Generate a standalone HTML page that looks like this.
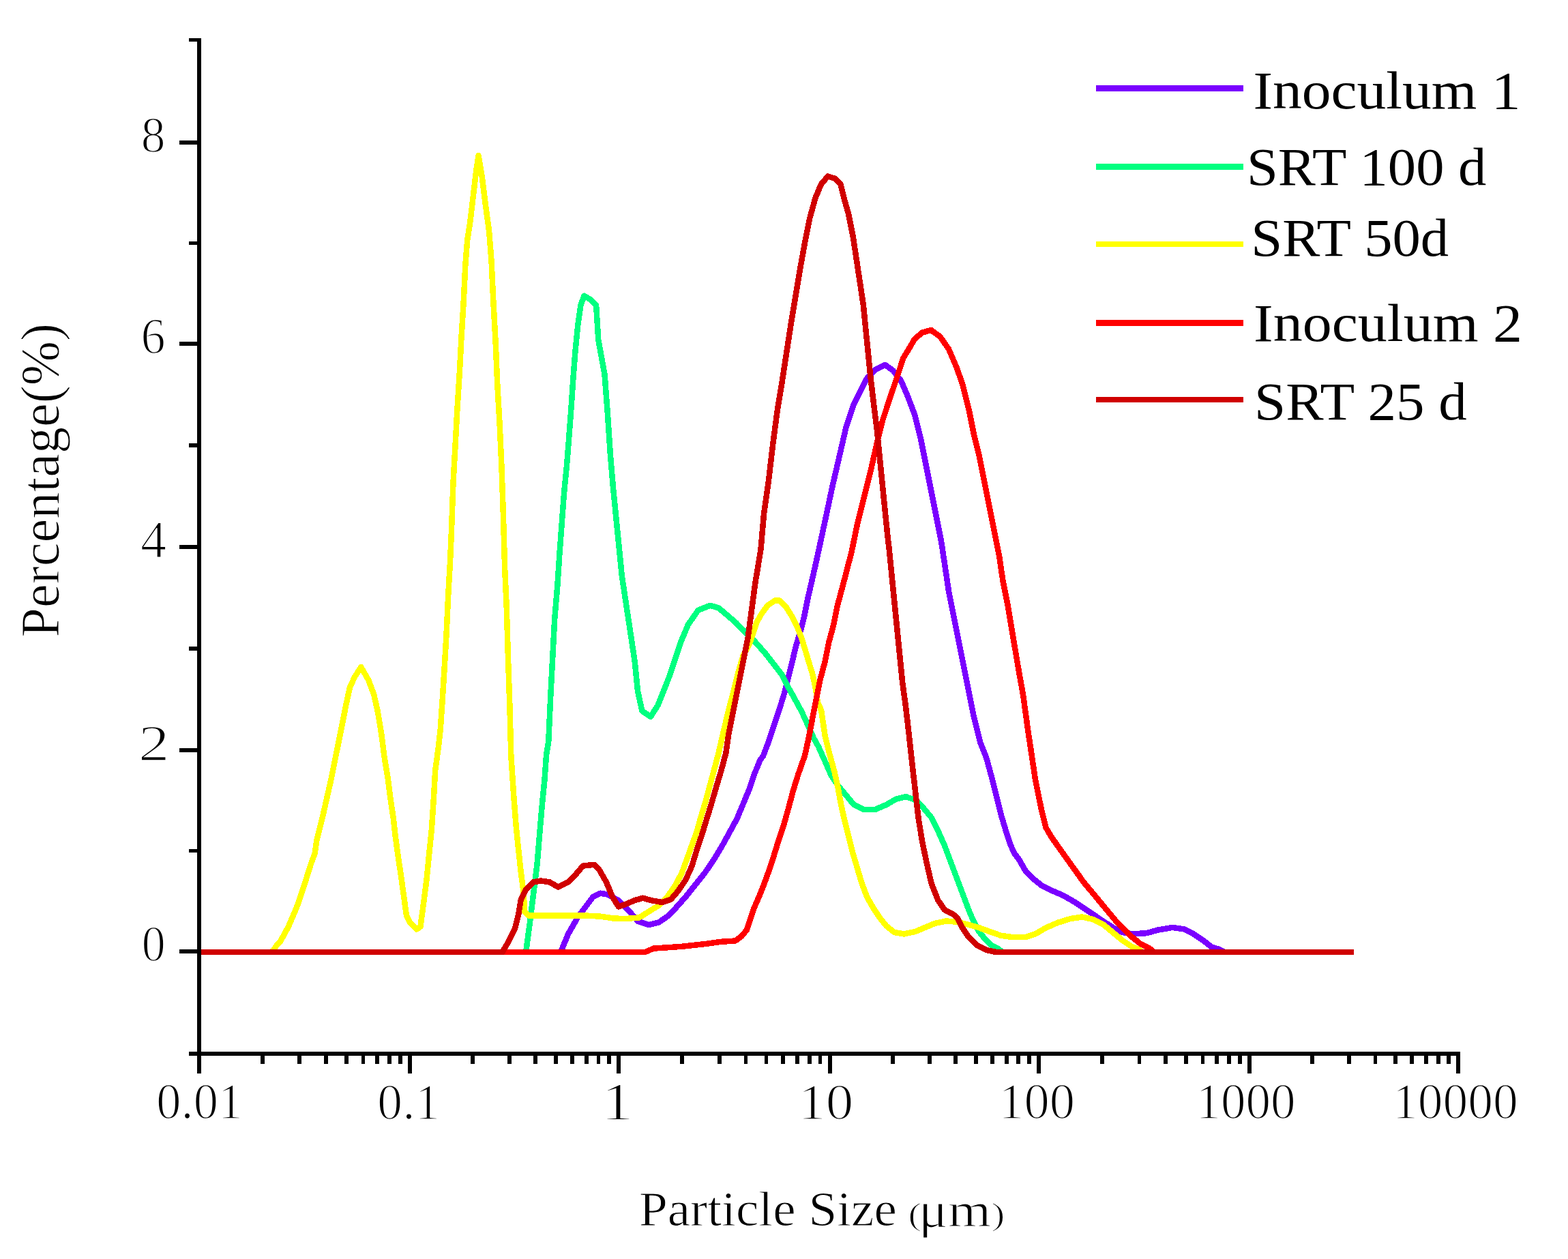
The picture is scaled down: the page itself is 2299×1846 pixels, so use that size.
<!DOCTYPE html>
<html><head><meta charset="utf-8"><title>Particle size distribution</title>
<style>html,body{margin:0;padding:0;background:#fff;}body{width:2299px;height:1846px;overflow:hidden;}svg{display:block;}</style>
</head><body>
<svg width="2299" height="1846" viewBox="0 0 2299 1846">
<rect x="0" y="0" width="2299" height="1846" fill="#fff"/>
<polyline points="822.1,1396.0 833.0,1369.7 847.5,1344.2 858.5,1329.7 869.4,1315.1 880.3,1309.7 891.2,1311.5 906.9,1320.3 921.2,1334.6 935.5,1350.8 951.6,1356.1 966.0,1352.5 978.5,1343.6 991.0,1331.1 1005.4,1314.9 1019.7,1297.0 1034.0,1279.1 1048.4,1257.6 1059.1,1239.7 1069.9,1220.0 1080.6,1200.3 1089.6,1178.8 1098.5,1157.3 1105.7,1135.8 1114.6,1114.3 1119.1,1108.1 1127.2,1086.6 1136.1,1059.7 1143.3,1038.2 1150.5,1014.9 1155.8,993.4 1161.2,972.0 1166.6,948.7 1173.7,925.4 1179.1,903.9 1184.5,877.0 1189.9,853.7 1195.2,830.4 1200.5,806.4 1210.6,759.5 1220.6,712.6 1230.7,669.0 1240.8,625.4 1250.8,595.3 1260.9,575.2 1270.9,555.1 1284.3,541.7 1297.7,535.0 1309.5,543.3 1321.2,558.4 1331.2,581.9 1341.1,607.9 1350.3,644.9 1357.7,681.9 1365.1,718.9 1372.5,755.9 1379.9,792.8 1385.5,829.8 1391.0,866.8 1398.4,903.8 1405.8,940.8 1413.2,977.7 1420.6,1014.7 1428.0,1051.7 1437.2,1088.7 1446.3,1111.3 1453.4,1137.3 1460.5,1165.8 1467.6,1194.2 1474.7,1217.9 1481.8,1239.2 1487.1,1251.0 1494.2,1260.5 1503.7,1277.0 1515.5,1288.9 1527.4,1298.4 1541.6,1305.5 1558.1,1312.6 1574.7,1322.0 1588.9,1331.5 1603.1,1341.0 1617.3,1350.5 1631.5,1359.9 1645.8,1367.0 1660.0,1369.4 1681.3,1368.2 1697.9,1363.5 1719.2,1359.9 1735.7,1362.3 1750.0,1369.4 1764.2,1378.9 1776.0,1388.3 1787.6,1392.0 1795.0,1396.0" stroke="#7a00ff" fill="none" stroke-width="8.5" stroke-linejoin="round" stroke-linecap="butt" shape-rendering="crispEdges"/>
<polyline points="771.1,1396.0 776.6,1355.2 782.0,1311.5 787.5,1267.8 791.1,1224.1 794.8,1180.4 798.4,1144.0 801.0,1107.6 804.3,1086.7 807.5,1016.0 810.6,957.3 813.3,906.3 817.3,859.2 820.4,812.2 823.9,765.1 827.1,722.0 831.0,682.7 834.1,643.5 837.6,596.5 840.8,549.4 843.9,510.2 847.5,474.9 851.4,447.5 856.5,433.7 866.3,439.6 874.1,447.5 877.3,498.4 886.5,548.8 890.7,603.6 894.9,666.9 899.2,717.5 903.4,759.7 907.6,801.9 911.8,844.1 918.1,886.3 924.5,928.5 930.8,970.7 935.0,1012.9 941.4,1042.4 954.0,1050.9 964.6,1034.0 973.0,1012.9 981.4,991.8 989.9,966.5 998.3,941.2 1008.9,915.9 1023.6,894.8 1041.2,887.8 1053.7,891.4 1066.3,902.1 1078.8,912.8 1089.6,923.6 1107.5,941.5 1121.8,957.6 1134.3,973.7 1146.9,989.9 1155.8,1007.8 1164.8,1023.9 1175.5,1043.6 1184.5,1063.3 1193.4,1083.0 1200.0,1094.7 1209.5,1116.0 1218.9,1137.3 1228.4,1151.5 1240.3,1165.8 1252.1,1180.0 1266.3,1187.1 1282.9,1187.1 1299.5,1180.0 1313.7,1171.7 1327.9,1168.1 1342.1,1172.9 1353.9,1184.7 1365.8,1198.9 1375.2,1217.9 1384.7,1239.2 1391.8,1258.1 1398.9,1277.0 1406.0,1296.0 1413.1,1314.9 1420.2,1333.9 1427.3,1350.5 1434.4,1364.7 1443.9,1376.5 1453.4,1386.0 1462.8,1390.7 1470.0,1396.0" stroke="#00ff80" fill="none" stroke-width="8.5" stroke-linejoin="round" stroke-linecap="butt" shape-rendering="crispEdges"/>
<polyline points="396.0,1396.0 400.5,1394.2 405.1,1386.8 411.6,1379.4 417.1,1369.2 422.7,1359.1 428.2,1346.1 433.8,1333.2 438.4,1321.2 443.0,1307.3 447.6,1293.4 452.3,1277.7 456.9,1263.9 461.5,1251.8 464.2,1233.2 472.3,1200.7 479.1,1170.8 485.9,1140.9 491.3,1113.8 496.8,1086.6 502.2,1059.5 507.6,1032.3 513.0,1007.9 519.8,993.0 529.3,978.0 540.2,997.0 548.3,1018.7 553.8,1043.2 559.2,1075.8 563.3,1108.3 568.7,1140.9 572.8,1173.5 576.9,1200.7 579.6,1225.1 583.6,1255.0 587.7,1282.1 591.8,1312.0 595.9,1341.8 601.3,1352.7 610.9,1362.5 616.4,1358.8 621.8,1318.8 625.5,1289.6 629.1,1253.2 632.8,1216.8 635.7,1173.2 638.2,1129.5 642.8,1096.0 645.6,1071.0 648.5,1029.0 651.5,982.0 654.6,929.0 657.2,873.0 660.1,822.0 661.9,780.0 664.4,709.9 667.5,654.4 670.3,602.4 673.8,546.9 676.5,494.8 679.7,442.8 682.4,387.3 685.2,352.6 689.4,324.9 693.5,290.2 698.0,252.0 701.5,228.0 706.7,259.0 711.9,300.6 717.1,338.7 720.6,383.8 723.4,442.8 726.8,505.2 729.3,564.2 732.7,623.2 735.5,685.6 737.9,755.0 740.2,834.6 742.7,889.2 744.9,962.0 747.4,1034.8 749.3,1107.6 752.9,1162.2 756.5,1209.6 760.2,1246.0 763.8,1278.7 767.5,1307.8 769.3,1337.0 774.7,1342.4 800.2,1342.4 854.8,1342.4 880.0,1343.6 897.9,1346.3 915.8,1347.2 937.3,1345.4 951.6,1336.4 966.0,1327.5 978.5,1314.9 991.0,1297.0 1000.0,1279.1 1007.2,1259.4 1014.3,1239.7 1021.5,1220.0 1026.9,1200.3 1034.0,1177.0 1040.3,1153.7 1046.6,1130.4 1053.7,1103.6 1060.9,1072.3 1068.1,1041.8 1075.2,1014.9 1082.4,986.3 1089.6,961.2 1098.5,945.1 1103.9,929.0 1109.3,912.8 1116.4,900.3 1125.4,887.8 1136.1,880.6 1143.3,880.6 1152.2,889.6 1161.2,903.9 1168.4,918.2 1175.5,936.1 1180.9,954.0 1186.3,972.0 1191.7,989.9 1196.1,1011.4 1198.8,1029.3 1204.2,1041.8 1209.5,1078.1 1216.6,1106.6 1223.7,1132.6 1228.4,1153.9 1233.2,1180.0 1237.9,1201.3 1243.8,1225.0 1249.7,1248.6 1256.8,1272.3 1263.9,1296.0 1271.0,1314.9 1280.5,1331.5 1290.0,1345.7 1299.5,1357.6 1311.3,1367.0 1325.5,1369.4 1342.1,1365.9 1356.3,1359.9 1370.5,1354.0 1387.1,1350.5 1401.3,1351.6 1417.9,1355.2 1434.4,1359.9 1451.0,1365.9 1467.6,1371.8 1484.2,1374.1 1503.7,1374.1 1517.9,1369.4 1534.5,1359.9 1551.0,1352.8 1570.0,1346.9 1586.6,1344.5 1603.1,1348.1 1617.3,1355.2 1631.5,1367.0 1645.8,1378.9 1660.0,1388.3 1669.4,1391.9 1675.0,1396.0" stroke="#ffff00" fill="none" stroke-width="8.5" stroke-linejoin="round" stroke-linecap="butt" shape-rendering="crispEdges"/>
<polyline points="292.0,1396.0 945.9,1396.0 958.4,1390.6 1000.2,1387.8 1036.4,1383.7 1055.9,1380.9 1078.1,1379.5 1087.8,1372.3 1094.9,1363.3 1100.3,1347.2 1105.7,1331.1 1112.8,1314.9 1120.0,1297.0 1127.2,1277.3 1134.3,1255.8 1141.5,1232.5 1148.7,1211.0 1155.8,1186.0 1163.0,1159.1 1170.2,1135.8 1180.0,1108.0 1186.3,1079.4 1191.7,1050.8 1197.0,1023.9 1202.4,997.0 1209.6,970.2 1214.9,943.3 1222.1,916.4 1227.5,889.6 1234.6,862.7 1241.8,835.8 1249.0,807.2 1257.5,766.2 1267.6,726.0 1277.6,685.8 1286.0,648.9 1294.4,615.4 1304.4,585.2 1314.5,555.1 1324.5,524.9 1334.6,508.2 1341.1,497.0 1352.2,487.7 1365.1,484.0 1378.1,493.3 1391.0,511.8 1402.1,537.7 1411.4,563.6 1420.6,600.5 1428.0,637.5 1435.4,667.1 1442.8,704.1 1450.2,741.1 1457.6,778.0 1465.0,815.0 1470.5,852.0 1477.9,889.0 1485.3,933.4 1492.7,977.7 1500.1,1019.0 1504.0,1047.4 1507.2,1071.0 1510.8,1094.7 1514.3,1118.4 1517.9,1142.1 1522.6,1165.8 1527.4,1189.4 1533.3,1213.1 1541.6,1227.3 1553.4,1243.9 1565.2,1260.5 1577.1,1277.0 1588.9,1293.6 1600.8,1307.8 1612.6,1322.0 1624.4,1336.3 1636.3,1350.5 1648.1,1362.3 1660.0,1374.1 1671.8,1383.6 1686.0,1391.0 1692.0,1396.0" stroke="#ff0000" fill="none" stroke-width="8.5" stroke-linejoin="round" stroke-linecap="butt" shape-rendering="crispEdges"/>
<polyline points="292.0,1396.0 736.5,1396.0 745.6,1380.7 754.7,1362.5 760.2,1340.6 763.8,1318.8 771.1,1304.2 782.0,1293.3 792.9,1291.5 805.7,1293.3 818.4,1300.6 833.0,1293.3 843.9,1282.4 854.8,1269.6 871.2,1267.8 878.5,1275.1 889.0,1293.4 897.9,1314.9 906.9,1329.3 917.6,1325.7 930.2,1320.3 942.7,1316.7 955.2,1320.3 971.3,1323.0 983.9,1318.5 994.6,1306.0 1005.4,1289.9 1014.3,1270.2 1021.5,1246.9 1028.7,1225.4 1035.8,1202.1 1043.0,1178.8 1050.2,1153.7 1057.3,1130.4 1064.5,1103.6 1068.1,1077.6 1075.2,1041.8 1080.6,1014.9 1086.0,988.1 1091.4,961.2 1096.7,934.3 1100.3,907.5 1103.9,880.6 1107.5,853.7 1111.1,832.2 1115.5,805.4 1120.1,752.8 1126.8,705.9 1133.5,648.9 1140.2,598.6 1146.9,558.4 1153.6,514.8 1160.3,471.3 1167.0,431.1 1173.7,390.9 1180.4,354.0 1187.1,320.5 1195.5,290.3 1203.9,270.2 1213.9,258.5 1224.0,261.8 1232.4,270.2 1237.4,290.3 1244.1,313.8 1250.8,347.3 1255.8,380.8 1260.9,414.3 1265.9,447.8 1269.2,481.3 1272.6,514.8 1275.9,548.4 1281.0,591.9 1286.0,632.1 1291.0,682.4 1296.0,732.7 1301.1,782.9 1303.8,806.4 1323.1,1000.0 1327.9,1035.5 1332.6,1075.8 1337.3,1118.4 1342.1,1161.0 1346.8,1201.3 1352.7,1236.8 1358.7,1265.2 1365.8,1296.0 1375.2,1319.7 1384.7,1333.9 1396.5,1339.8 1403.6,1345.7 1410.7,1359.9 1420.2,1374.1 1432.1,1386.0 1446.3,1393.1 1460.5,1396.0 1985.0,1396.0" stroke="#d00000" fill="none" stroke-width="8.5" stroke-linejoin="round" stroke-linecap="butt" shape-rendering="crispEdges"/>
<g fill="#000" shape-rendering="crispEdges">
<rect x="289.0" y="55.7" width="5.7" height="1492.3"/>
<rect x="289.0" y="1542.4" width="1852.2" height="5.6"/>
<rect x="277.2" y="1542.4" width="12.8" height="5.6"/>
<rect x="263.0" y="1392.2" width="27.0" height="5.6"/>
<rect x="277.2" y="1244.7" width="12.8" height="5.6"/>
<rect x="263.0" y="1097.2" width="27.0" height="5.6"/>
<rect x="277.2" y="948.1" width="12.8" height="5.6"/>
<rect x="263.0" y="799.0" width="27.0" height="5.6"/>
<rect x="277.2" y="650.1" width="12.8" height="5.6"/>
<rect x="263.0" y="501.2" width="27.0" height="5.6"/>
<rect x="277.2" y="353.6" width="12.8" height="5.6"/>
<rect x="263.0" y="206.0" width="27.0" height="5.6"/>
<rect x="277.2" y="55.7" width="12.8" height="5.6"/>
<rect x="288.8" y="1547.0" width="5.8" height="26.9"/>
<rect x="381.9" y="1547.0" width="5.8" height="12.5"/>
<rect x="436.4" y="1547.0" width="5.8" height="12.5"/>
<rect x="475.0" y="1547.0" width="5.8" height="12.5"/>
<rect x="505.0" y="1547.0" width="5.8" height="12.5"/>
<rect x="529.5" y="1547.0" width="5.8" height="12.5"/>
<rect x="550.2" y="1547.0" width="5.8" height="12.5"/>
<rect x="568.1" y="1547.0" width="5.8" height="12.5"/>
<rect x="583.9" y="1547.0" width="5.8" height="12.5"/>
<rect x="598.1" y="1547.0" width="5.8" height="26.9"/>
<rect x="690.2" y="1547.0" width="5.8" height="12.5"/>
<rect x="744.1" y="1547.0" width="5.8" height="12.5"/>
<rect x="782.4" y="1547.0" width="5.8" height="12.5"/>
<rect x="812.1" y="1547.0" width="5.8" height="12.5"/>
<rect x="836.3" y="1547.0" width="5.8" height="12.5"/>
<rect x="856.8" y="1547.0" width="5.8" height="12.5"/>
<rect x="874.5" y="1547.0" width="5.8" height="12.5"/>
<rect x="890.2" y="1547.0" width="5.8" height="12.5"/>
<rect x="904.2" y="1547.0" width="5.8" height="26.9"/>
<rect x="997.4" y="1547.0" width="5.8" height="12.5"/>
<rect x="1051.9" y="1547.0" width="5.8" height="12.5"/>
<rect x="1090.6" y="1547.0" width="5.8" height="12.5"/>
<rect x="1120.6" y="1547.0" width="5.8" height="12.5"/>
<rect x="1145.1" y="1547.0" width="5.8" height="12.5"/>
<rect x="1165.8" y="1547.0" width="5.8" height="12.5"/>
<rect x="1183.8" y="1547.0" width="5.8" height="12.5"/>
<rect x="1199.6" y="1547.0" width="5.8" height="12.5"/>
<rect x="1213.8" y="1547.0" width="5.8" height="26.9"/>
<rect x="1306.0" y="1547.0" width="5.8" height="12.5"/>
<rect x="1359.9" y="1547.0" width="5.8" height="12.5"/>
<rect x="1398.2" y="1547.0" width="5.8" height="12.5"/>
<rect x="1427.9" y="1547.0" width="5.8" height="12.5"/>
<rect x="1452.1" y="1547.0" width="5.8" height="12.5"/>
<rect x="1472.7" y="1547.0" width="5.8" height="12.5"/>
<rect x="1490.4" y="1547.0" width="5.8" height="12.5"/>
<rect x="1506.1" y="1547.0" width="5.8" height="12.5"/>
<rect x="1520.1" y="1547.0" width="5.8" height="26.9"/>
<rect x="1613.1" y="1547.0" width="5.8" height="12.5"/>
<rect x="1667.5" y="1547.0" width="5.8" height="12.5"/>
<rect x="1706.1" y="1547.0" width="5.8" height="12.5"/>
<rect x="1736.1" y="1547.0" width="5.8" height="12.5"/>
<rect x="1760.5" y="1547.0" width="5.8" height="12.5"/>
<rect x="1781.2" y="1547.0" width="5.8" height="12.5"/>
<rect x="1799.2" y="1547.0" width="5.8" height="12.5"/>
<rect x="1815.0" y="1547.0" width="5.8" height="12.5"/>
<rect x="1829.1" y="1547.0" width="5.8" height="26.9"/>
<rect x="1921.3" y="1547.0" width="5.8" height="12.5"/>
<rect x="1975.2" y="1547.0" width="5.8" height="12.5"/>
<rect x="2013.5" y="1547.0" width="5.8" height="12.5"/>
<rect x="2043.2" y="1547.0" width="5.8" height="12.5"/>
<rect x="2067.4" y="1547.0" width="5.8" height="12.5"/>
<rect x="2088.0" y="1547.0" width="5.8" height="12.5"/>
<rect x="2105.7" y="1547.0" width="5.8" height="12.5"/>
<rect x="2121.4" y="1547.0" width="5.8" height="12.5"/>
<rect x="2135.4" y="1547.0" width="5.8" height="26.9"/>
</g>
<rect x="1607" y="125.1" width="216" height="8.6" fill="#7a00ff" shape-rendering="crispEdges"/>
<rect x="1607" y="240.2" width="216" height="8.6" fill="#00ff80" shape-rendering="crispEdges"/>
<rect x="1607" y="353.7" width="216" height="8.6" fill="#ffff00" shape-rendering="crispEdges"/>
<rect x="1607" y="469.0" width="216" height="8.6" fill="#ff0000" shape-rendering="crispEdges"/>
<rect x="1607" y="581.5" width="216" height="8.6" fill="#d00000" shape-rendering="crispEdges"/>
<g transform="matrix(1.02068,0,0,1.05871,-5.436,-12.793)"><text font-family="'Liberation Serif', 'DejaVu Serif', serif" fill="#000" x="243" y="222.8" text-anchor="end" font-size="70" stroke="#fff" stroke-width="1.6">8</text></g>
<g transform="matrix(1.02893,0,0,1.04577,-7.432,-24.008)"><text font-family="'Liberation Serif', 'DejaVu Serif', serif" fill="#000" x="243" y="518.0" text-anchor="end" font-size="70" stroke="#fff" stroke-width="1.6">6</text></g>
<g transform="matrix(1.09059,0,0,1.11608,-20.833,-93.911)"><text font-family="'Liberation Serif', 'DejaVu Serif', serif" fill="#000" x="243" y="815.8" text-anchor="end" font-size="70" stroke="#fff" stroke-width="1.6">4</text></g>
<g transform="matrix(1.30032,0,0,1.06901,-67.477,-75.710)"><text font-family="'Liberation Serif', 'DejaVu Serif', serif" fill="#000" x="243" y="1114.0" text-anchor="end" font-size="70" stroke="#fff" stroke-width="1.6">2</text></g>
<g transform="matrix(0.99590,0,0,1.07025,0.517,-98.863)"><text font-family="'Liberation Serif', 'DejaVu Serif', serif" fill="#000" x="243" y="1409.0" text-anchor="end" font-size="70" stroke="#fff" stroke-width="1.6">0</text></g>
<g transform="matrix(1.03490,0,0,1.04577,-9.167,-74.867)"><text font-family="'Liberation Serif', 'DejaVu Serif', serif" fill="#000" x="291.7" y="1640" text-anchor="middle" font-size="70" stroke="#fff" stroke-width="1.6">0.01</text></g>
<g transform="matrix(1.05143,0,0,1.06522,-32.556,-106.457)"><text font-family="'Liberation Serif', 'DejaVu Serif', serif" fill="#000" x="601.0" y="1640" text-anchor="middle" font-size="70" stroke="#fff" stroke-width="1.6">0.1</text></g>
<g transform="matrix(1.37625,0,0,1.11603,-343.354,-188.959)"><text font-family="'Liberation Serif', 'DejaVu Serif', serif" fill="#000" x="907.1" y="1640" text-anchor="middle" font-size="70" stroke="#fff" stroke-width="1.6">1</text></g>
<g transform="matrix(1.15958,0,0,1.06751,-200.048,-109.515)"><text font-family="'Liberation Serif', 'DejaVu Serif', serif" fill="#000" x="1216.7" y="1640" text-anchor="middle" font-size="70" stroke="#fff" stroke-width="1.6">10</text></g>
<g transform="matrix(1.06533,0,0,1.06522,-102.395,-106.457)"><text font-family="'Liberation Serif', 'DejaVu Serif', serif" fill="#000" x="1523.0" y="1640" text-anchor="middle" font-size="70" stroke="#fff" stroke-width="1.6">100</text></g>
<g transform="matrix(1.04375,0,0,1.06522,-85.540,-106.457)"><text font-family="'Liberation Serif', 'DejaVu Serif', serif" fill="#000" x="1832.0" y="1640" text-anchor="middle" font-size="70" stroke="#fff" stroke-width="1.6">1000</text></g>
<g transform="matrix(1.05039,0,0,1.06751,-112.058,-110.310)"><text font-family="'Liberation Serif', 'DejaVu Serif', serif" fill="#000" x="2138.3" y="1640" text-anchor="middle" font-size="70" stroke="#fff" stroke-width="1.6">10000</text></g>
<g transform="matrix(1.00297,0,0,0.97260,-5.899,49.649)"><text font-family="'Liberation Serif', 'DejaVu Serif', serif" fill="#000" x="940" y="1796.5" font-size="75" stroke="#fff" stroke-width="1.0">Particle Size</text></g>
<g transform="matrix(1.33215,0,0,1.06495,-446.843,-121.119)"><text font-family="'Liberation Serif', 'DejaVu Serif', serif" fill="#000" x="1335" y="1800" font-size="44" stroke="#fff" stroke-width="1.0">(</text></g>
<g transform="matrix(1.32712,0,0,1.23551,-449.998,-421.258)"><text font-family="'Liberation Serif', 'DejaVu Serif', serif" fill="#000" x="1354" y="1796.7" font-size="60" stroke="#fff" stroke-width="1.0">μ</text></g>
<g transform="matrix(1.35303,0,0,1.16283,-495.996,-291.342)"><text font-family="'Liberation Serif', 'DejaVu Serif', serif" fill="#000" x="1394" y="1796.7" font-size="60" stroke="#fff" stroke-width="1.0">m</text></g>
<g transform="matrix(1.35494,0,0,1.03692,-519.219,-70.445)"><text font-family="'Liberation Serif', 'DejaVu Serif', serif" fill="#000" x="1456" y="1800" font-size="44" stroke="#fff" stroke-width="1.0">)</text></g>
<g transform="matrix(1.08006,0,0,1.04322,-8.166,-37.855)"><text font-family="'Liberation Serif', 'DejaVu Serif', serif" fill="#000" transform="translate(87,932) rotate(-90)" x="0" y="0" font-size="75" stroke="#fff" stroke-width="1.0">Percentage(%)</text></g>
<g transform="matrix(1.01830,0,0,0.92523,-37.053,10.845)"><text font-family="'Liberation Serif', 'DejaVu Serif', serif" fill="#000" x="1840.9" y="159.6" font-size="84">Inoculum 1</text></g>
<g transform="matrix(0.98348,0,0,0.92207,24.480,19.876)"><text font-family="'Liberation Serif', 'DejaVu Serif', serif" fill="#000" x="1833.7" y="272.2" font-size="84">SRT 100 d</text></g>
<g transform="matrix(0.98438,0,0,0.92207,23.222,28.283)"><text font-family="'Liberation Serif', 'DejaVu Serif', serif" fill="#000" x="1839.8" y="376.3" font-size="84">SRT 50d</text></g>
<g transform="matrix(1.02361,0,0,0.92349,-46.138,37.214)"><text font-family="'Liberation Serif', 'DejaVu Serif', serif" fill="#000" x="1840.8" y="500.6" font-size="84">Inoculum 2</text></g>
<g transform="matrix(0.98767,0,0,0.92207,16.831,46.986)"><text font-family="'Liberation Serif', 'DejaVu Serif', serif" fill="#000" x="1845" y="616.3" font-size="84">SRT 25 d</text></g>
</svg>
</body></html>
